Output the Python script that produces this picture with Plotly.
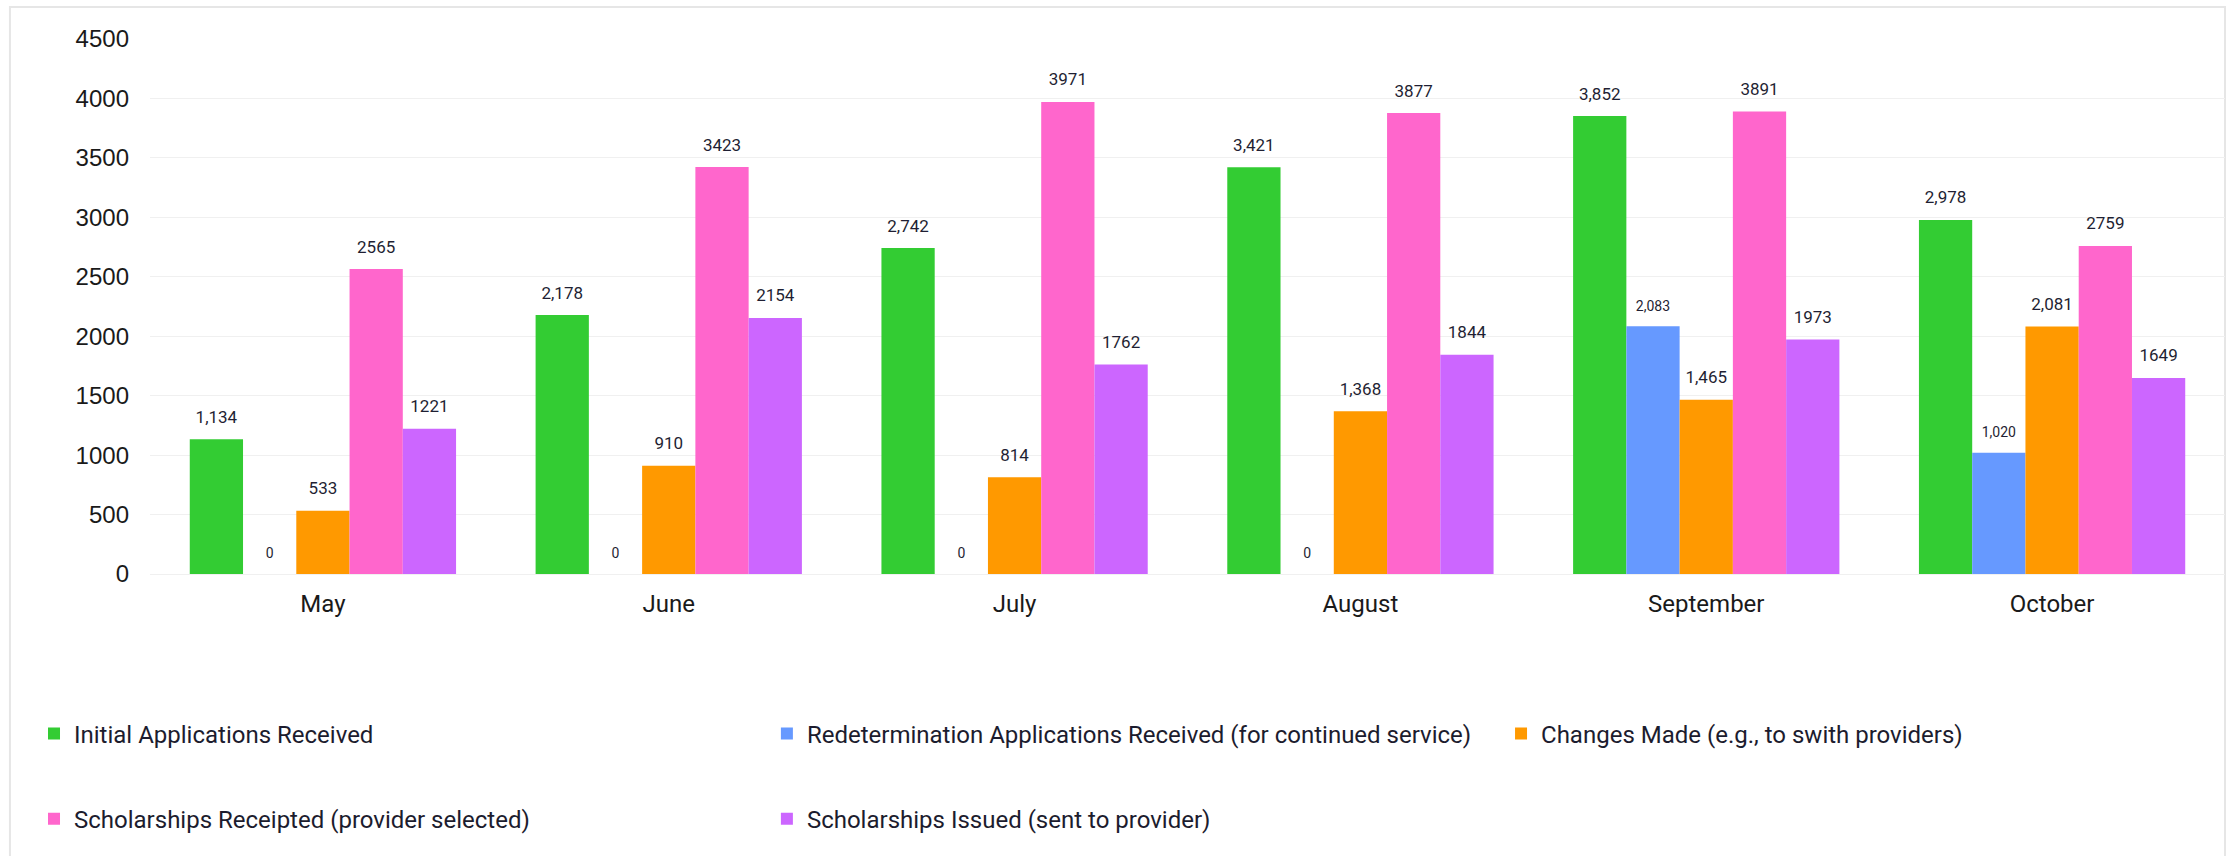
import plotly.graph_objects as go

months = ["May", "June", "July", "August", "September", "October"]
series_names = [
    "Initial Applications Received",
    "Redetermination Applications Received (for continued service)",
    "Changes Made (e.g., to swith providers)",
    "Scholarships Receipted (provider selected)",
    "Scholarships Issued (sent to provider)",
]
initial = [1134, 2178, 2742, 3421, 3852, 2978]
redetermination = [0, 0, 0, 0, 2083, 1020]
changes = [533, 910, 814, 1368, 1465, 2081]
receipted = [2565, 3423, 3971, 3877, 3891, 2759]
issued = [1221, 2154, 1762, 1844, 1973, 1649]
y_ticks = [0, 500, 1000, 1500, 2000, 2500, 3000, 3500, 4000, 4500]

series_values = [initial, redetermination, changes, receipted, issued]
colors = ["#33cc33", "#6699ff", "#ff9900", "#ff66cc", "#cc66ff"]
label_formats = ["%{y:,}", "%{y:,}", "%{y:,}", "%{y}", "%{y}"]
label_sizes = [17, 14, 17, 17, 17]
legend_columns = ["legend", "legend2", "legend3", "legend", "legend2"]

fig = go.Figure()
for name, vals, col, lg in zip(series_names, series_values, colors, legend_columns):
    fig.add_trace(go.Bar(
        x=months, y=vals, name=name, marker=dict(color=col, line=dict(width=0)),
        legendgroup=name, legend=lg, hoverinfo="skip",
    ))
for name, vals, fmt, sz in zip(series_names, series_values, label_formats, label_sizes):
    fig.add_trace(go.Scatter(
        x=months, y=vals, mode="markers+text", texttemplate=fmt,
        textposition="top center",
        textfont=dict(family="Roboto", size=sz, color="#1f1f33"),
        marker=dict(size=18, opacity=0), showlegend=False, hoverinfo="skip",
    ))

legend_style = dict(
    orientation="v", xanchor="left", y=-0.257, yanchor="top",
    font=dict(family="Roboto", size=24, color="#1c1c2e"),
    tracegroupgap=51, traceorder="grouped", bgcolor="rgba(0,0,0,0)",
)

fig.update_layout(
    width=2229, height=856,
    margin=dict(l=150, r=4, t=39, b=282),
    paper_bgcolor="white", plot_bgcolor="white",
    barmode="group", bargap=0.23, bargroupgap=0,
    scattermode="group", scattergap=0.23,
    font=dict(family="Roboto", color="#1a1a1a"),
    xaxis=dict(
        showgrid=False, showline=False, zeroline=False,
        tickfont=dict(family="Roboto", size=24, color="#1a1a1a"),
        ticklabelstandoff=13,
    ),
    yaxis=dict(
        range=[0, 4500], tickvals=y_ticks, ticktext=[str(v) for v in y_ticks],
        showgrid=True, gridcolor="#f0f0f0", gridwidth=1,
        zeroline=True, zerolinecolor="#f0f0f0", zerolinewidth=1,
        showline=False,
        tickfont=dict(family="Liberation Sans, Arial", size=24, color="#1a1a1a"),
        ticklabelstandoff=20,
    ),
    legend=dict(x=-0.0559, **legend_style),
    legend2=dict(x=0.2973, **legend_style),
    legend3=dict(x=0.6511, **legend_style),
    showlegend=True,
    shapes=[dict(
        type="rect", xref="paper", yref="paper",
        x0=-0.0675, x1=1.0, y0=-0.6, y1=1.06,
        line=dict(color="#e6e6e6", width=2), fillcolor="rgba(0,0,0,0)",
        layer="below",
    )],
)

fig.write_html("out.html")
